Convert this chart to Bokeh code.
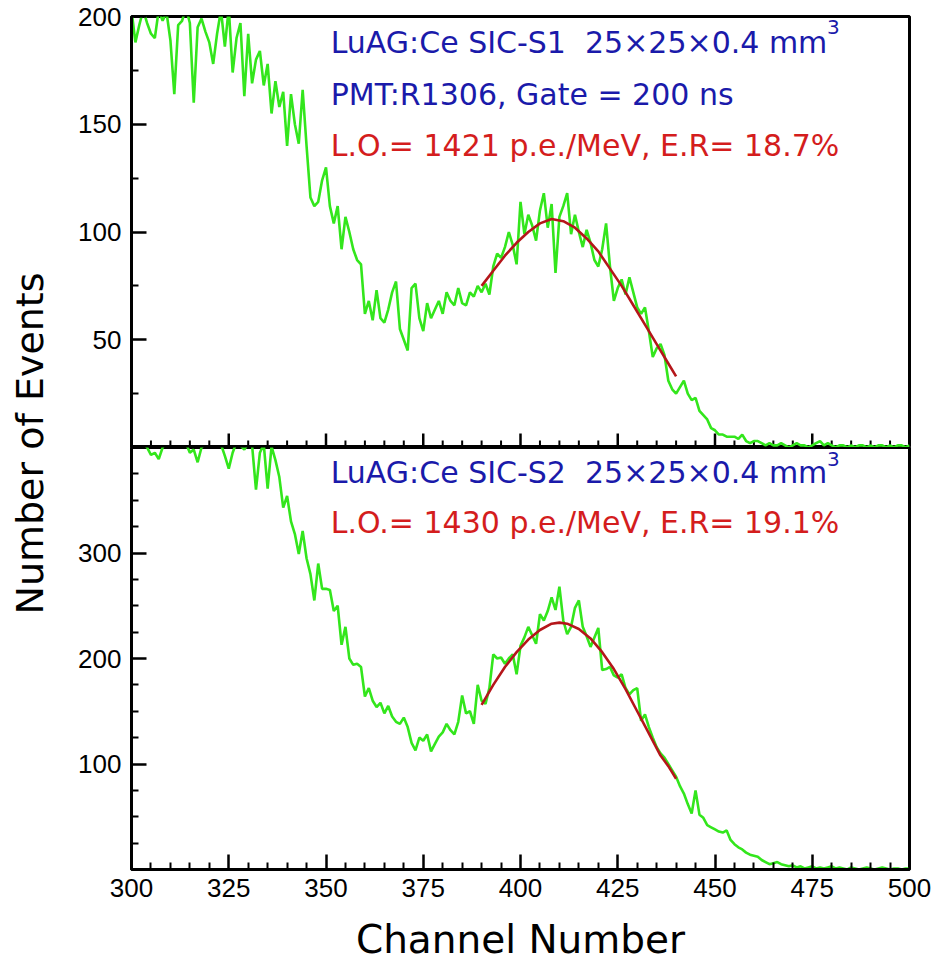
import math
from bokeh.plotting import figure
from bokeh.layouts import row, column
from bokeh.models import Range1d, FixedTicker, Label, LinearAxis, ColumnDataSource
from bokeh.embed import file_html
from bokeh.resources import INLINE

# ---------------- data ----------------
channels = list(range(300, 501))

counts_s1 = [
    203, 188, 196, 203, 197, 192, 190, 203, 198, 202,
    189, 164, 196, 198, 204, 197, 160, 195, 199, 193,
    188, 178, 192, 203, 186, 204, 174, 190, 197, 163,
    192, 169, 180, 184, 168, 178, 155, 170, 158, 165,
    140, 164, 150, 141, 166, 140, 116, 112, 114, 124,
    130, 112, 104, 112, 92, 107, 100, 92, 87, 85,
    62, 68, 59, 73, 60, 58, 64, 72, 77, 55,
    50, 45, 74, 76, 60, 54, 67, 60, 64, 68,
    62, 72, 68, 66, 74, 67, 66, 72, 70, 75,
    72, 76, 71, 84, 90, 88, 93, 100, 94, 85,
    114, 99, 108, 103, 96, 110, 118, 102, 113, 81,
    107, 112, 118, 99, 108, 100, 93, 101, 95, 87,
    84, 92, 104, 84, 68, 74, 78, 71, 79, 72,
    65, 62, 65, 54, 42, 46, 48, 43, 31, 27,
    25, 28, 31, 25, 22, 23, 17, 15, 13, 9,
    8, 6, 6, 5, 5, 5, 4, 6, 3, 2,
    3, 3, 2, 1, 2, 1, 1, 2, 1, 0,
    1, 2, 1, 1, 0, 1, 2, 3, 1, 2,
    1, 0, 1, 1, 0, 1, 0, 1, 1, 0,
    1, 0, 1, 1, 0, 1, 0, 1, 1, 0,
    1,
]

counts_s2 = [
    405, 405, 404, 405, 400, 393, 395, 389, 400, 405,
    406, 404, 405, 402, 404, 395, 398, 386, 400, 404,
    405, 402, 405, 403, 392, 380, 395, 405, 402, 398,
    404, 402, 360, 395, 403, 361, 401, 388, 372, 343,
    354, 330, 318, 299, 321, 295, 280, 255, 290, 266,
    266, 265, 245, 250, 213, 230, 200, 194, 195, 192,
    164, 172, 160, 154, 158, 148, 155, 145, 140, 138,
    144, 135, 120, 113, 125, 122, 128, 112, 119, 126,
    130, 138, 132, 128, 140, 165, 148, 150, 138, 175,
    160, 157, 172, 204, 200, 201, 195, 200, 204, 185,
    212, 220, 230, 222, 214, 242, 236, 245, 258, 246,
    268, 236, 223, 230, 248, 255, 230, 221, 211, 220,
    229, 189, 190, 192, 184, 182, 185, 172, 166, 170,
    172, 141, 147, 135, 125, 116, 110, 106, 100, 94,
    88, 79, 72, 62, 53, 75, 52, 49, 42, 40,
    38, 36, 35, 37, 28, 24, 21, 19, 16, 14,
    13, 12, 9, 7, 5, 6, 7, 5, 4, 3,
    4, 2, 3, 1, 2, 3, 1, 2, 1, 2,
    3, 1, 2, 1, 0, 2, 1, 0, 1, 2,
    1, 0, 1, 2, 1, 0, 1, 1, 0, 1,
    1,
]

fit_s1_ch = [390, 393, 396, 399, 402, 405, 408, 411, 414, 417, 420, 423, 426, 429, 432, 435, 438, 440]
fit_s1 = [75, 82, 89, 95, 100, 104, 106, 105, 102, 97, 91, 83, 75, 66, 57, 48, 39, 33]

fit_s2_ch = [390, 393, 396, 399, 402, 405, 408, 410, 412, 415, 418, 421, 424, 427, 430, 433, 436, 438, 440]
fit_s2 = [156, 175, 192, 206, 218, 227, 233, 234, 233, 228, 219, 206, 190, 171, 150, 129, 108, 98, 86]

x_major = [300, 325, 350, 375, 400, 425, 450, 475, 500]
x_minor = [c for c in range(300, 501, 5) if c not in x_major]
y_major_s1 = [50, 100, 150, 200]
y_minor_s1 = [25, 75, 125, 175]
y_major_s2 = [100, 200, 300]
y_minor_s2 = [25, 50, 75, 125, 150, 175, 225, 250, 275, 325, 350, 375]

s1_line1 = "LuAG:Ce SIC-S1\u00a0\u00a025\u00d725\u00d70.4 mm"
s1_line2 = "PMT:R1306, Gate = 200 ns"
s1_line3 = "L.O.= 1421 p.e./MeV, E.R= 18.7%"
s2_line1 = "LuAG:Ce SIC-S2\u00a0\u00a025\u00d725\u00d70.4 mm"
s2_line2 = "L.O.= 1430 p.e./MeV, E.R= 19.1%"

# ---------------- style ----------------
GREEN = "#33e61c"
FIT = "#b5161a"
BLUE = "#1a1aaa"
RED = "#d41d1d"
TICK_FONT = "Liberation Sans"
ANN_FONT = "DejaVu Sans"


def panel(height, ymax, ymaj, ymin, top, bottom):
    p = figure(width=876, height=height,
               x_range=Range1d(300, 500), y_range=Range1d(0, ymax),
               output_backend="svg", toolbar_location=None,
               x_axis_location=None, y_axis_location=None,
               min_border_left=71, min_border_right=27,
               min_border_top=top, min_border_bottom=bottom)
    p.xgrid.visible = False
    p.ygrid.visible = False
    p.outline_line_color = "black"
    p.outline_line_width = 3
    p.outline_line_alpha = 1.0
    p.background_fill_color = "white"
    p.border_fill_color = "white"
    ya = LinearAxis(ticker=FixedTicker(ticks=ymaj, minor_ticks=ymin))
    ya.major_tick_in = 15
    ya.major_tick_out = 0
    ya.minor_tick_in = 7
    ya.minor_tick_out = 0
    ya.major_tick_line_width = 2.5
    ya.minor_tick_line_width = 2
    ya.axis_line_width = 3
    ya.major_label_text_font = TICK_FONT
    ya.major_label_text_font_size = "26px"
    ya.major_label_text_color = "black"
    ya.major_label_standoff = 10
    p.add_layout(ya, "left")
    return p


p1 = panel(447, 200, y_major_s1, y_minor_s1, 16, 0)

# tick marks of the shared channel axis, drawn up into the upper panel
px_per_unit_top = 431 / 200.0
p1.segment(x0=x_major, y0=[0] * len(x_major), x1=x_major,
           y1=[14 / px_per_unit_top] * len(x_major),
           line_color="black", line_width=2.5)
p1.segment(x0=x_minor, y0=[0] * len(x_minor), x1=x_minor,
           y1=[7 / px_per_unit_top] * len(x_minor),
           line_color="black", line_width=2)

p2 = panel(526, 400, y_major_s2, y_minor_s2, 0, 104)
xa2 = LinearAxis(ticker=FixedTicker(ticks=x_major, minor_ticks=x_minor))
xa2.major_tick_in = 15
xa2.major_tick_out = 0
xa2.minor_tick_in = 7
xa2.minor_tick_out = 0
xa2.major_tick_line_width = 2.5
xa2.minor_tick_line_width = 2
xa2.axis_line_width = 3
xa2.major_label_text_font = TICK_FONT
xa2.major_label_text_font_size = "26px"
xa2.major_label_text_color = "black"
xa2.major_label_standoff = 9
xa2.axis_label = "Channel Number"
xa2.axis_label_text_font = ANN_FONT
xa2.axis_label_text_font_size = "39px"
xa2.axis_label_text_font_style = "normal"
xa2.axis_label_text_color = "black"
xa2.axis_label_standoff = 17
p2.add_layout(xa2, "below")

src1 = ColumnDataSource(dict(ch=channels, n=counts_s1))
src2 = ColumnDataSource(dict(ch=channels, n=counts_s2))
p1.line("ch", "n", source=src1, line_color=GREEN, line_width=2.6)
p2.line("ch", "n", source=src2, line_color=GREEN, line_width=2.6)
p1.line(fit_s1_ch, fit_s1, line_color=FIT, line_width=2.6)
p2.line(fit_s2_ch, fit_s2, line_color=FIT, line_width=2.6)


def ann(p, x, y, text, color, size="30px"):
    p.add_layout(Label(x=x, y=y, text=text, text_color=color,
                       text_font=ANN_FONT, text_font_size=size,
                       text_align="left", text_baseline="alphabetic"))


# top panel texts (data coords of left edge / baseline)
ann(p1, 351.2, 188.0, s1_line1, BLUE)
ann(p1, 478.8, 195.0, "3", BLUE, "20px")
ann(p1, 351.2, 164.0, s1_line2, BLUE)
ann(p1, 351.2, 140.3, s1_line3, RED)
# bottom panel texts
ann(p2, 351.2, 376.3, s2_line1, BLUE)
ann(p2, 478.8, 389.5, "3", BLUE, "20px")
ann(p2, 351.2, 328.9, s2_line2, RED)

# y-axis title panel spanning both plots
pl = figure(width=60, height=973, x_range=Range1d(0, 60), y_range=Range1d(0, 973),
            output_backend="svg", toolbar_location=None,
            x_axis_location=None, y_axis_location=None,
            min_border_left=0, min_border_right=0, min_border_top=0, min_border_bottom=0)
pl.xgrid.visible = False
pl.ygrid.visible = False
pl.outline_line_color = None
pl.add_layout(Label(x=29, y=530, text="Number of Events", angle=math.pi / 2,
                    text_font=ANN_FONT, text_font_size="38px", text_color="black",
                    text_align="center", text_baseline="alphabetic"))

layout = row(pl, column(p1, p2))
open("out.html", "w").write(file_html(layout, INLINE))
